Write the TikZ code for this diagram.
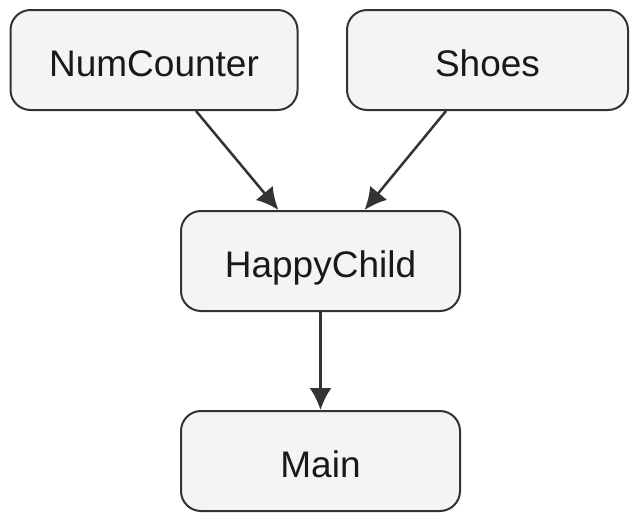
\documentclass[tikz,border=0pt]{standalone}
\usepackage{fontspec}
\setmainfont{Liberation Sans}
\usetikzlibrary{arrows.meta}
\definecolor{boxfill}{HTML}{F4F4F4}
\definecolor{boxline}{HTML}{333333}
\tikzset{
  modbox/.style={draw=boxline, fill=boxfill, line width=2pt, rounded corners=20pt,
    minimum height=100pt, inner sep=0pt, text height=32pt, text depth=0pt,
    font=\fontsize{37}{44}\selectfont, text=black!90},
  dep/.style={draw=boxline, line width=2.5pt, -{Latex[length=22pt,width=22pt]}}
}
\begin{document}
\begin{tikzpicture}[x=1pt,y=-1pt]
            \useasboundingbox (0,0) rectangle (639,522);
            \node[modbox, minimum width=287pt] (numcounter) at (154,60) {NumCounter};
            \node[modbox, minimum width=281pt] (shoes) at (487.5,60) {Shoes};
            \node[modbox, minimum width=279pt] (happychild) at (320.5,261) {HappyChild};
            \node[modbox, minimum width=279pt] (main) at (320.5,461) {Main};
            \draw[dep] ([xshift=42pt]numcounter.south) -- ([xshift=-42pt]happychild.north);
            \draw[dep] ([xshift=-41.5pt]shoes.south) -- ([xshift=44pt]happychild.north);
            \draw[dep] (happychild.south) -- (main.north);
        \end{tikzpicture}
\end{document}
